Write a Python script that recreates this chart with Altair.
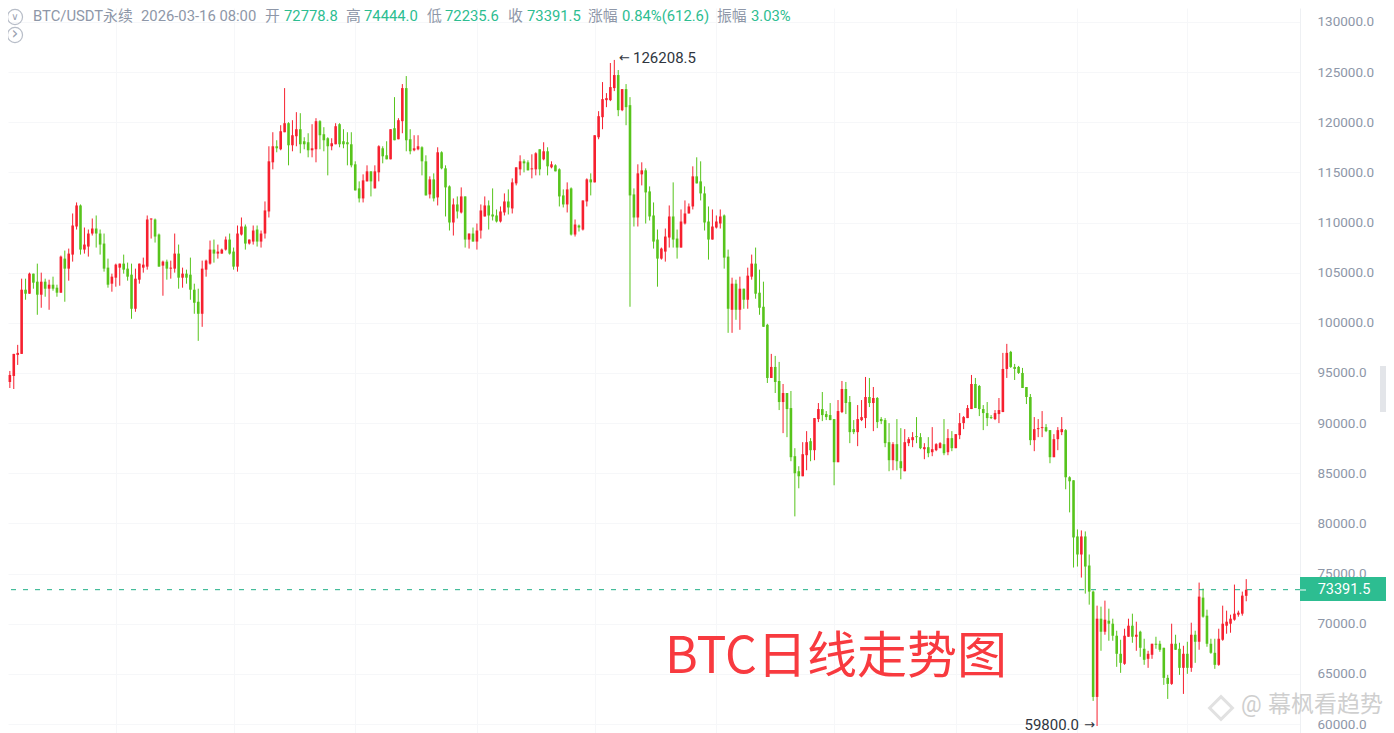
import altair as alt
import pandas as pd

directions = (
    "GGRRRRGRGG" "RGRGGRGRRR" "GRRRGGGGRR" "RGGGRRRRRG" "GRGRRGRGGG" "GRRRGRRRGG"
    "RRGRRGRRRR" "GRRGRRGGGR" "RGGGRRGGGG" "GGRRGRRGGR" "GRRGGRRGGR" "GRGGGRGRGR"
    "GRRRGGGRRG" "RRRGGRRGRG" "RGGGRGRGRR" "GRRRRRRGRG" "GGRRGGGGRR" "RGGRRRRGGG"
    "GRRRGGRGRG" "RRGGGGRGGR" "GGGGRRGRRG" "GGGRRGGGRR" "RGRGGGGRGG" "RRRGGRGRRR"
    "GRGRRRRRGG" "GGGRRRRGGG" "GGGRRRGGRR" "RGGGGRGGGR" "GRGGGGRRGR" "GGRRGGGGRG"
    "GRGRGRGGGG" "RRRRRRRR"
)

highs = [
    97.0,96.3,95.2,96.9,97.8,104.4,104.4,105.0,104.9,105.9,
    105.0,104.4,104.3,104.6,103.8,106.7,107.2,107.4,110.9,112.0,
    111.8,109.5,109.3,110.4,110.7,109.3,108.9,106.4,104.9,105.9,
    105.9,106.8,106.0,105.9,105.4,105.9,106.5,110.7,110.4,110.4,
    108.9,106.2,106.3,106.2,108.9,107.8,105.5,105.3,106.5,103.9,
    103.4,106.2,106.3,108.2,108.3,107.8,107.4,108.6,108.9,107.5,
    109.7,110.5,109.8,108.3,109.7,109.7,109.2,112.1,117.6,119.0,
    118.2,119.7,123.4,120.0,120.2,121.0,120.9,118.5,118.9,119.8,
    120.4,120.2,119.5,118.5,118.4,119.9,119.9,119.3,119.0,119.0,
    116.1,114.1,114.8,115.7,115.1,115.7,117.7,117.6,118.1,119.3,
    122.5,120.4,123.8,124.6,119.3,118.7,118.7,117.6,116.7,114.6,
    114.9,117.5,117.1,115.7,113.7,112.4,112.6,113.5,112.6,108.9,
    109.5,109.9,111.8,112.6,112.2,113.4,111.3,111.6,112.9,113.3,
    114.4,115.5,116.7,116.3,116.2,116.8,117.0,117.3,118.0,117.5,
    116.1,115.8,115.4,113.3,114.0,113.5,110.3,109.8,112.2,114.4,
    114.9,118.7,121.1,124.0,122.9,125.9,126.2085,125.2,123.3,123.8,
    122.5,113.4,115.8,116.0,115.4,113.6,112.0,109.3,107.5,109.4,
    111.7,114.0,109.3,111.3,112.2,111.9,115.6,116.5,116.1,113.6,
    111.6,111.3,110.7,111.3,110.8,107.3,104.5,104.3,104.6,103.4,
    105.5,106.8,107.5,105.3,104.1,99.9,96.9,96.7,96.1,93.9,
    93.0,93.2,87.5,85.7,88.1,89.2,88.5,90.5,92.0,93.1,
    91.2,92.0,90.4,92.3,94.2,94.1,92.7,90.3,91.8,92.3,
    94.6,94.5,93.6,92.6,90.6,90.5,90.0,88.1,90.4,89.5,
    89.4,88.6,89.1,90.6,89.0,88.0,88.6,89.6,88.0,88.1,
    90.4,89.4,89.2,88.9,91.0,90.7,91.8,94.8,94.5,93.8,
    91.8,92.1,90.8,91.3,92.5,97.0,97.9,97.2,95.9,95.7,
    95.5,93.6,92.9,90.6,90.4,91.2,89.9,89.3,88.9,89.6,
    90.6,89.4,84.7,84.3,79.4,79.3,79.2,76.9,73.3,71.8,
    71.7,72.3,71.5,70.5,69.3,68.4,69.5,70.5,71.0,70.2,
    69.3,68.5,67.3,68.0,68.7,68.3,67.6,64.9,70.0,68.9,
    68.1,67.8,68.2,70.1,69.3,74.1,73.5,71.4,68.5,68.5,
    69.5,71.8,71.3,70.9,73.9,71.3,73.2,74.444,
]

body_tops = [
    96.9,96.2,94.8,96.9,97.0,103.3,103.3,104.9,104.9,104.1,
    104.1,104.1,103.8,103.8,103.5,106.6,106.4,106.9,109.7,111.7,
    111.7,107.8,108.9,109.4,109.4,108.9,107.9,105.5,104.6,105.8,
    105.9,105.9,105.4,104.8,104.4,105.9,105.8,110.3,110.4,110.3,
    108.8,106.1,106.1,105.5,106.9,106.9,104.9,104.9,104.8,103.3,
    102.1,105.4,106.2,107.3,107.3,107.1,107.3,108.3,108.3,107.1,
    108.9,109.6,109.6,108.3,109.2,109.3,108.9,111.2,116.1,117.6,
    117.6,119.1,119.9,119.9,118.7,119.3,119.3,118.1,118.0,117.4,
    120.1,120.1,118.8,118.4,117.9,119.6,119.8,118.1,118.0,117.8,
    115.8,113.4,114.2,115.1,115.1,115.1,117.6,117.4,116.7,119.3,
    119.4,120.2,123.4,123.4,118.3,117.4,117.6,117.5,116.1,114.3,
    114.3,117.0,117.0,115.4,113.6,111.8,111.8,112.6,112.6,108.9,
    108.9,109.2,111.2,111.7,111.7,110.8,110.7,111.1,112.1,112.1,
    114.0,115.5,116.1,116.1,116.0,115.4,116.9,117.3,117.1,117.1,
    115.8,115.7,115.3,112.7,113.3,113.4,109.8,109.7,112.2,114.3,
    114.3,118.7,120.6,122.3,122.4,123.5,124.7,124.7,123.3,123.3,
    121.7,112.8,114.9,115.2,115.2,113.1,110.7,108.3,107.4,108.6,
    110.6,110.6,108.4,110.1,110.9,111.6,114.6,114.6,114.1,112.9,
    110.1,109.6,110.1,110.6,110.7,106.6,103.9,103.9,103.4,103.4,
    104.7,105.9,105.9,103.0,101.6,99.8,95.6,95.6,94.2,93.0,
    93.0,91.5,86.7,85.2,86.9,88.1,88.2,90.5,91.4,91.4,
    90.9,90.8,90.4,91.2,93.4,93.4,92.1,89.4,90.4,90.6,
    92.6,92.6,92.5,92.5,90.4,90.3,88.1,87.9,87.9,86.2,
    88.1,88.4,88.6,88.7,88.6,87.6,87.6,87.4,87.9,88.0,
    87.9,88.5,88.5,88.9,90.0,90.6,91.5,93.9,93.9,93.7,
    91.4,91.0,90.6,91.0,91.3,95.4,97.0,97.1,95.6,95.6,
    95.0,93.6,92.6,89.4,89.5,89.6,89.6,89.3,88.4,89.3,
    89.4,89.3,84.6,84.3,78.7,78.7,78.7,75.8,73.2,70.5,
    70.5,70.4,70.3,70.0,68.8,67.0,68.8,69.8,69.8,68.9,
    69.2,67.5,67.0,68.0,68.0,68.0,67.6,64.6,68.0,68.0,
    67.5,67.0,67.0,68.9,68.9,72.7,72.6,70.8,68.0,67.1,
    68.5,70.0,70.2,70.5,71.0,71.1,72.8,73.3915,
]

body_bottoms = [
    95.8,94.1,94.1,94.7,96.8,96.9,102.9,102.9,104.0,102.8,
    102.8,103.4,103.4,103.4,103.0,103.0,105.4,105.4,106.8,109.6,
    107.3,107.3,107.6,108.9,108.9,107.8,105.4,103.8,103.9,104.5,
    105.5,105.3,104.6,101.4,101.4,104.3,105.5,105.6,110.3,108.6,
    105.6,105.7,105.4,105.4,105.4,104.5,104.5,104.5,103.3,102.0,
    100.9,100.9,105.3,105.9,106.9,106.9,106.9,107.3,106.9,105.6,
    105.6,108.8,107.9,107.9,108.1,108.1,108.1,108.9,111.1,116.0,
    117.4,117.3,119.0,117.7,117.7,118.6,117.8,117.8,117.2,117.2,
    117.3,118.7,118.2,117.6,117.6,117.8,117.8,117.8,117.8,115.7,
    113.2,112.4,112.4,114.1,114.1,113.4,115.0,116.6,116.3,116.3,
    118.2,118.3,120.1,118.2,117.1,117.2,117.3,116.1,112.7,112.8,
    112.4,112.5,115.4,113.5,110.0,110.0,111.1,111.0,108.3,108.3,
    108.1,108.1,109.2,110.6,110.7,110.6,110.1,110.1,111.0,111.5,
    111.4,113.9,115.3,115.9,115.2,115.3,115.3,115.3,116.3,115.6,
    115.5,115.1,112.6,111.8,111.8,108.8,108.8,109.5,109.3,112.1,
    114.0,114.0,118.5,120.5,122.2,122.2,123.4,121.2,121.2,121.5,
    112.7,110.5,110.5,114.8,113.0,110.6,108.1,106.4,106.4,107.1,
    108.5,108.3,107.5,107.5,109.9,110.9,111.6,113.9,112.9,110.0,
    108.3,108.3,109.5,109.9,106.5,101.4,101.3,101.3,101.3,102.3,
    102.3,104.6,102.9,101.5,99.6,94.5,94.5,94.1,92.1,92.1,
    91.4,86.6,85.0,84.7,84.7,86.8,87.3,87.3,90.4,90.8,
    90.6,90.3,86.1,86.1,91.1,92.0,89.1,89.1,89.1,90.3,
    90.5,92.0,92.0,90.1,90.2,88.0,86.3,86.3,86.2,85.5,
    85.2,88.0,88.3,88.6,87.5,87.4,87.0,87.1,87.3,87.5,
    87.0,87.1,87.5,87.5,88.8,90.0,90.5,91.4,91.5,91.4,
    91.0,90.5,90.5,90.4,90.9,91.1,95.4,95.6,95.4,95.0,
    93.5,92.6,88.3,88.3,89.4,89.5,89.2,86.6,86.6,88.4,
    89.1,84.6,84.2,78.6,76.9,76.9,75.7,73.2,62.7,62.7,
    69.2,69.2,70.0,68.8,67.0,66.1,66.0,68.7,68.7,68.7,
    67.6,66.4,66.5,66.9,67.9,67.4,64.6,64.0,64.0,67.4,
    65.6,65.6,65.6,65.6,68.2,68.2,70.7,68.0,67.1,65.9,
    65.9,68.4,69.8,70.0,70.4,70.9,71.0,72.7788,
]

lows = [
    95.7,94.1,93.5,93.4,95.8,96.9,102.3,102.9,103.4,100.8,
    101.5,102.6,101.3,103.2,102.6,103.0,102.1,104.2,106.1,109.3,
    106.8,106.9,106.6,108.7,107.5,106.8,105.1,103.5,103.1,103.6,
    103.7,104.9,104.2,100.4,101.1,103.9,105.0,105.3,108.4,108.0,
    105.6,102.7,104.3,104.4,105.0,103.4,103.5,103.9,102.3,100.9,
    98.2,99.6,104.6,105.8,106.0,106.4,106.9,107.2,106.8,105.3,
    105.1,108.7,107.3,107.8,107.8,107.6,107.5,108.4,110.5,115.3,
    117.0,117.2,119.0,115.7,117.1,117.6,116.9,117.3,116.5,116.5,
    116.0,117.3,117.1,114.7,117.2,117.8,117.5,117.4,115.7,115.5,
    113.2,112.0,112.0,114.1,112.6,113.4,114.1,115.9,116.3,116.3,
    118.2,118.3,118.9,117.1,116.8,117.1,117.2,114.7,112.7,112.4,
    112.1,111.7,115.3,110.6,109.2,108.7,110.4,110.9,107.5,107.4,
    108.1,107.3,108.4,110.6,109.3,110.2,110.0,110.0,110.7,110.8,
    110.9,113.7,114.7,115.0,115.2,114.4,114.7,114.7,116.2,114.7,
    115.4,115.1,111.6,111.5,111.0,108.7,108.6,109.1,109.2,111.6,
    112.7,114.0,118.3,119.3,121.5,122.1,123.1,120.6,121.1,119.7,
    101.6,109.6,109.6,113.7,109.9,110.2,107.4,103.6,106.3,106.1,
    107.5,107.5,106.4,107.5,109.8,110.9,111.3,113.9,112.2,109.2,
    106.3,108.3,109.4,109.4,105.4,99.0,99.0,100.3,99.3,101.4,
    101.4,104.3,102.4,100.8,99.6,94.0,94.5,93.0,91.3,89.0,
    88.6,86.2,80.7,83.5,84.7,85.3,86.2,86.3,90.1,90.2,
    90.3,90.3,83.8,86.1,91.0,90.9,88.0,88.9,87.7,90.2,
    89.5,91.6,89.2,89.5,89.9,87.6,85.2,85.3,85.3,84.4,
    85.2,87.7,87.6,88.0,87.4,86.4,86.6,86.7,87.2,87.5,
    86.8,86.8,87.2,87.5,88.4,89.4,90.5,91.4,91.5,90.7,
    89.3,89.7,90.4,90.3,90.0,91.1,94.5,95.5,94.3,94.9,
    93.5,91.9,87.8,87.2,88.6,88.6,89.1,86.0,86.6,87.3,
    88.8,83.4,81.1,75.6,75.7,74.6,73.0,71.9,62.3,59.8,
    67.3,68.9,68.3,68.3,65.7,65.1,65.9,68.7,68.1,67.3,
    66.7,65.9,65.6,66.5,67.5,67.2,63.9,62.5,63.9,67.4,
    64.9,63.0,65.0,65.2,66.1,67.4,70.6,67.7,67.0,65.5,
    65.8,68.3,69.0,69.1,70.3,70.7,70.8,72.2356,
]

price_ticks = list(range(60000, 130001, 5000))
month_starts = [29, 59, 90, 121, 151, 182, 212, 243, 274, 302]
last_price = 73391.5

GREEN = "#57C41C"
RED = "#F6202F"
TEAL = "#2DBD91"
GREY = "#8E97A8"
CJK = "Roboto, 'Noto Sans CJK SC', sans-serif"

PLOT_W = 1292
PLOT_H = 725

df = pd.DataFrame({
    "i": range(len(highs)),
    "high": [v * 1000 for v in highs],
    "top": [v * 1000 for v in body_tops],
    "bottom": [v * 1000 for v in body_bottoms],
    "low": [v * 1000 for v in lows],
    "dir": ["up" if d == "R" else "down" for d in directions],
})

x_enc = alt.X(
    "i:Q",
    scale=alt.Scale(domain=[1.529, 1.529 + PLOT_W / 3.925], nice=False, zero=False),
    axis=alt.Axis(values=month_starts, labels=False, ticks=False, domain=False, title=None,
                  grid=True, gridColor="#F6F7F9", gridWidth=1),
)
y_enc = alt.Y(
    "low:Q",
    scale=alt.Scale(domain=[59103, 131386], nice=False, zero=False),
    axis=alt.Axis(orient="right", values=price_ticks, format=".1f", title=None, ticks=False,
                  grid=True, gridColor="#F6F7F9", gridWidth=1, domain=True, domainColor="#EEF0F3",
                  labelColor=GREY, labelFontSize=13.5, labelFont="Roboto", labelPadding=17,
                  labelOverlap=False, labelFlush=False, labelBound=False),
)
color_enc = alt.Color("dir:N", scale=alt.Scale(domain=["up", "down"], range=[RED, GREEN]), legend=None)

wicks = alt.Chart(df).mark_rule(strokeWidth=1, clip=True).encode(
    x=x_enc, y=y_enc, y2="high:Q", color=color_enc)
bodies = alt.Chart(df).mark_rule(strokeWidth=2.6, clip=True).encode(
    x="i:Q", y="bottom:Q", y2="top:Q", color=color_enc)

last_line = alt.Chart(pd.DataFrame({"p": [last_price]})).mark_rule(
    color="#1FAE85", strokeWidth=1, strokeDash=[5, 7], clip=True).encode(y="p:Q")

one = pd.DataFrame({"a": [0]})


def txt(text, px, py, color, size, align="left", font=CJK, **kw):
    return alt.Chart(one).mark_text(
        align=align, baseline="middle", color=color, fontSize=size, font=font, **kw
    ).encode(x=alt.value(px - 8), y=alt.value(py - 8), text=alt.value(text))


def box(x0, x1, y0, y1, color):
    return alt.Chart(one).mark_rect(color=color).encode(
        x=alt.value(x0 - 8), x2=alt.value(x1 - 8), y=alt.value(y0 - 8), y2=alt.value(y1 - 8))


def ring(px, py, size=227):
    return alt.Chart(one).mark_point(shape="circle", filled=False, color="#9AA2B1", size=size, strokeWidth=1.2).encode(
        x=alt.value(px - 8), y=alt.value(py - 8))


HEADER_Y = 17
header = [
    ("BTC/USDT永续", 33, GREY), ("2026-03-16 08:00", 141, GREY), ("开", 265, GREY),
    ("72778.8", 284, TEAL), ("高", 346, GREY), ("74444.0", 364, TEAL), ("低", 427, GREY),
    ("72235.6", 445, TEAL), ("收", 508, GREY), ("73391.5", 527, TEAL), ("涨幅", 588, GREY),
    ("0.84%(612.6)", 622, TEAL), ("振幅", 717, GREY), ("3.03%", 751, TEAL),
]
header_layers = [txt(t, x, HEADER_Y, c, 14.8) for t, x, c in header]

others = [
    box(1300, 1386, 577, 601, TEAL),
    box(1300, 1306, 589.5, 590.5, "#FFFFFF"),
    txt("73391.5", 1344, 589.5, "#FFFFFF", 14.5, align="center", font="Roboto"),
    txt("←", 619, 58, "#2F3640", 13, font="DejaVu Sans"),
    txt("126208.5", 633, 58, "#2F3640", 15, font="Roboto"),
    txt("59800.0", 1079, 725, "#2F3640", 15, align="right", font="Roboto"),
    txt("→", 1084, 725, "#2F3640", 13, font="DejaVu Sans"),
    txt("BTC日线走势图", 665, 658, "#F83A3F", 50, font="'Noto Sans CJK SC', sans-serif"),
    txt("幕枫看趋势", 1268, 705, "#CFCFCF", 23, font="'Noto Sans CJK SC', sans-serif"),
    txt("@", 1241, 705, "#CFCFCF", 23, font="Roboto"),
    alt.Chart(one).mark_point(shape="diamond", filled=False, color="#D5D5D5", size=520, strokeWidth=3).encode(
        x=alt.value(1221 - 8), y=alt.value(708 - 8)),
    box(1380, 1386, 366, 412, "#E3E5E9"),
    ring(15, HEADER_Y),
    txt("∨", 15, HEADER_Y, "#9AA2B1", 10, align="center", font="DejaVu Sans"),
    ring(15, 35),
    txt("›", 15, 34, "#9AA2B1", 17, align="center", font="DejaVu Sans"),
]

chart = alt.layer(wicks, bodies, last_line, *others, *header_layers).properties(
    width=PLOT_W,
    height=PLOT_H,
    autosize=alt.AutoSizeParams(type="none"),
    padding={"left": 0, "top": 0, "right": 86, "bottom": 0},
    background="#FFFFFF",
).configure_view(stroke=None)

chart.save("out.html", embed_options={"renderer": "svg", "actions": False})
